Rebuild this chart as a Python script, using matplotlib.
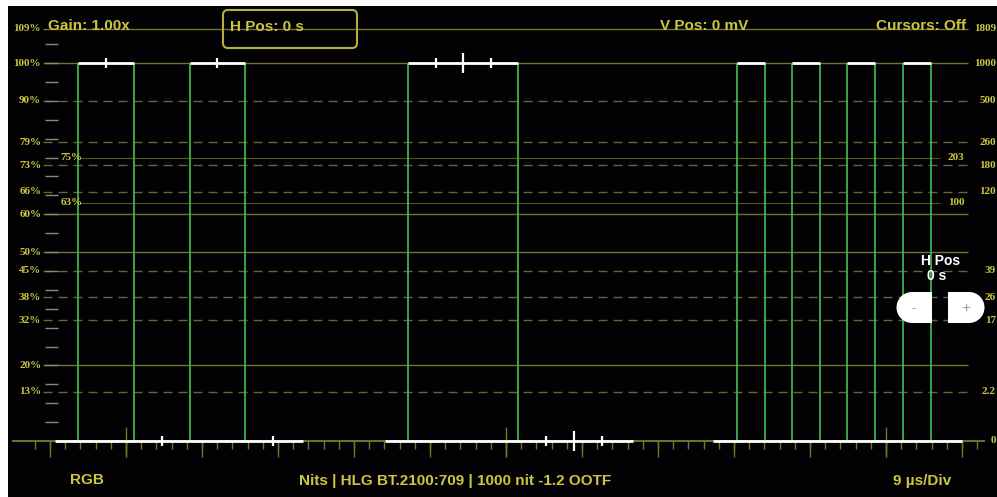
import numpy as np
import matplotlib
matplotlib.use('Agg')
import matplotlib.pyplot as plt
from matplotlib.transforms import Affine2D
from matplotlib.patches import FancyBboxPatch, Circle, Rectangle

W, H = 997, 497

# ── graticule levels (% signal) and nit scale ──────────────────────────────
SOLID_PCT  = [109, 100, 60, 50, 20]
DASHED_PCT = [90, 79, 73, 66, 45, 38, 32, 13]
LEFT_PCT   = [109, 100, 90, 79, 73, 66, 60, 50, 45, 38, 32, 20, 13]
INNER_PCT  = [75, 63]
INNER_NITS = ["203", "100"]
NIT_PCT    = [109, 100, 90, 79, 73, 66, 45, 38, 32, 13, 0]
NIT_LABELS = ["1809", "1000", "500", "260", "180", "120", "39", "26", "17", "2.2", "0"]

# ── waveform (microseconds) ────────────────────────────────────────────────
RISE_US = [3.3, 16.6, 42.4, 81.4, 87.9, 94.4, 101.0]
FALL_US = [9.95, 23.1, 55.4, 84.7, 91.2, 97.7, 104.3]
LOW_START_US = [0.6, 39.7, 78.5]
LOW_END_US   = [30.0, 69.0, 108.0]
HIGH_MARK_US   = [6.6, 19.8, 45.7, 48.9, 52.2]
HIGH_MARK_TALL = [False, False, False, True, False]
LOW_MARK_US    = [13.3, 26.4, 58.7, 62.1, 65.4]
LOW_MARK_TALL  = [False, False, False, True, False]

US_PER_DIV = 9
N_DIV = 12
TALL_TICK_US = [9, 54, 99]

OLIVE   = '#747429'
DASHCOL = '#666834'
INNER   = '#55551f'
YEL     = '#cdc640'
GREEN   = '#3fb34c'

fig = plt.figure(figsize=(W / 100, H / 100), dpi=100, facecolor='white')
ax = fig.add_axes([8 / W, 0, (W - 8) / W, (H - 6) / H])
ax.set_facecolor('#020205')
ax.set_xlim(-4.974, 112.145)
ax.set_ylim(-14.815, 115.08)
ax.set_xticks([])
ax.set_yticks([])
for sp in ax.spines.values():
    sp.set_visible(False)

# pixel transform (y down) for annotation text / widgets
px = Affine2D().scale(1 / W, -1 / H).translate(0, 1) + fig.transFigure

g0, g1 = -0.83, 108.7
ax.hlines(SOLID_PCT, g0, g1, color=OLIVE, lw=1.0, zorder=1)
ax.hlines(DASHED_PCT, g0, g1, color=DASHCOL, lw=1.0, linestyles=[(0, (6.5, 4.3))], zorder=1)
ax.hlines(INNER_PCT, 3.55, 105.4, color=INNER, lw=0.8, zorder=1)
ax.hlines(0, -4.5, 110.7, color=OLIVE, lw=1.4, zorder=1)

# 5 % side dashes
ax.hlines(np.arange(5, 110, 5), -0.6, 0.95, color='#8a8a78', lw=1.0, zorder=1)

# time ticks
minor = np.arange(-1, 62) * US_PER_DIV / 5
major = np.arange(0, N_DIV + 1) * US_PER_DIV
ax.vlines(minor, -2.0, 0, color=OLIVE, lw=1.0, zorder=1)
ax.vlines(major, -4.2, 0, color=OLIVE, lw=1.0, zorder=1)
ax.vlines(TALL_TICK_US, -4.2, 3.7, color=OLIVE, lw=1.0, zorder=1)

# waveform
ax.vlines(RISE_US + FALL_US, 0, 100, color=GREEN, lw=1.3, zorder=3)
ax.hlines([100] * len(RISE_US), RISE_US, FALL_US, color='white', lw=2.0, zorder=4)
ax.hlines([0] * len(LOW_START_US), LOW_START_US, LOW_END_US, color='white', lw=2.0, zorder=4)
for t, tall in zip(HIGH_MARK_US, HIGH_MARK_TALL):
    d = 2.6 if tall else 1.3
    ax.vlines(t, 100 - d, 100 + d, color='white', lw=1.6, zorder=4)
for t, tall in zip(LOW_MARK_US, LOW_MARK_TALL):
    d = 2.6 if tall else 1.3
    ax.vlines(t, -d, d, color='white', lw=1.6, zorder=4)

# scale labels
serif = dict(family='Liberation Serif', fontweight='bold', color=YEL, fontsize=8)
for p in LEFT_PCT:
    ax.text(-1.05, p, f"{p}%", ha='right', va='center', **serif)
for p in INNER_PCT:
    ax.text(1.2, p, f"{p}%", ha='left', va='center', **serif)
for p, lab in zip(INNER_PCT, INNER_NITS):
    ax.text(106.3, p, lab, ha='left', va='center', **serif)
for p, lab in zip(NIT_PCT, NIT_LABELS):
    ax.text(112.0, p, lab, ha='right', va='center', **serif)

# header / footer text
sans = dict(family='Liberation Sans', fontweight='bold', color=YEL, fontsize=11,
            transform=px, va='center')
fig.text(48, 26, "Gain: 1.00x", **sans)
fig.text(230, 27, "H Pos: 0 s", **sans)
fig.text(660, 26, "V Pos: 0 mV", **sans)
fig.text(966, 26, "Cursors: Off", ha='right', **sans)
fig.text(70, 480, "RGB", **sans)
fig.text(455, 481, "Nits | HLG BT.2100:709 | 1000 nit -1.2 OOTF", ha='center', **sans)
fig.text(922, 481, "9 µs/Div", ha='center', **sans)

fig.patches.append(FancyBboxPatch((223, 10), 134, 38, boxstyle='round,pad=0,rounding_size=5',
                                  transform=px, fill=False, ec='#b6b03a', lw=1.5))

# H Pos buttons
fig.text(941, 261, "H Pos", ha='center', va='center', color='white',
         family='Liberation Sans', fontweight='bold', fontsize=10, transform=px)
fig.text(937, 276, "0 s", ha='center', va='center', color='white',
         family='Liberation Sans', fontweight='bold', fontsize=10, transform=px)
for shape in [Circle((912, 307.5), 15.5), Rectangle((912, 292), 20, 31),
              Circle((969, 307.5), 15.5), Rectangle((948, 292), 21, 31)]:
    shape.set_transform(px)
    shape.set_facecolor('white')
    shape.set_edgecolor('none')
    fig.patches.append(shape)
fig.text(913, 308, "-", ha='center', va='center', color='#888888', fontsize=8, transform=px)
fig.text(966, 308, "+", ha='center', va='center', color='#888888', fontsize=8, transform=px)

fig.savefig('out.png', dpi=100, facecolor='white')
